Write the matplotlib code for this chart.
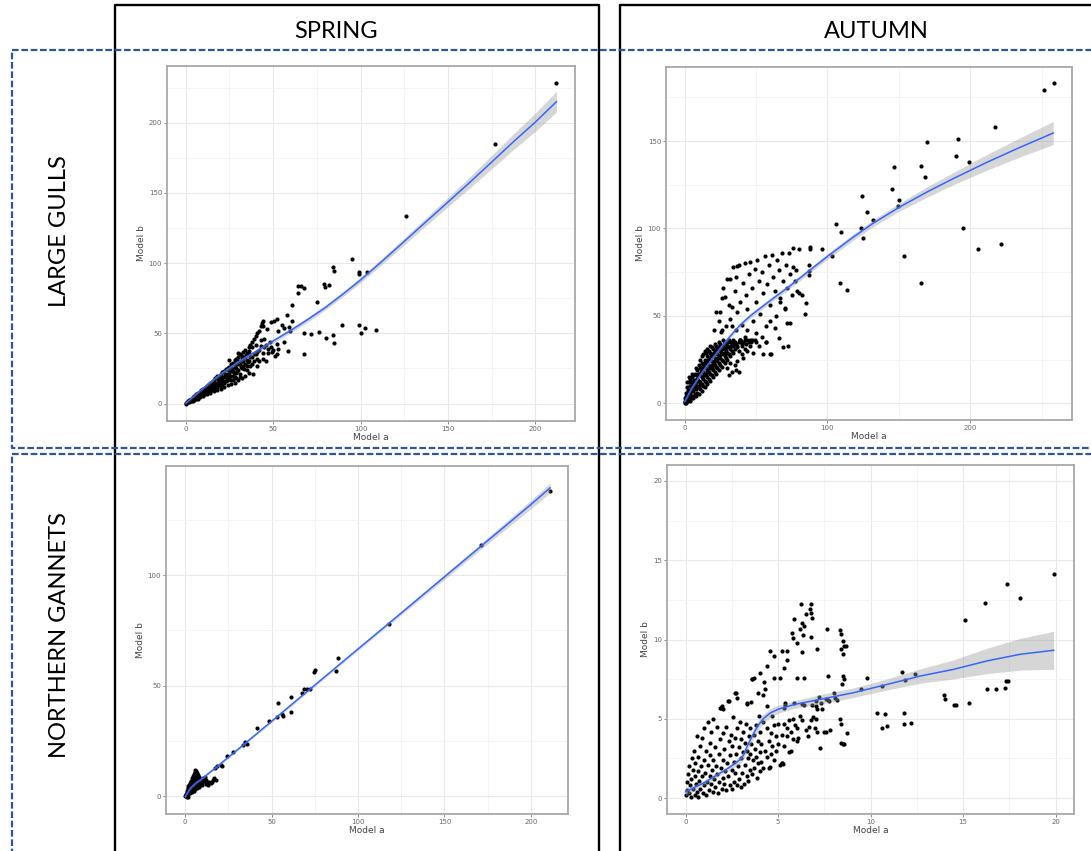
import matplotlib
matplotlib.use('Agg')
import matplotlib.pyplot as plt
from matplotlib.lines import Line2D

W, H = 1091, 851
fig = plt.figure(figsize=(W / 100, H / 100), dpi=100)


def fx(x):
    return x / W


def fy(y):
    return 1 - y / H


col_labels = ["SPRING", "AUTUMN"]
row_labels = ["LARGE GULLS", "NORTHERN GANNETS"]

# ---------------- data: large gulls, spring ----------------
gulls_spring_pts = [
    (212, 228.6), (177, 185), (126, 133.5), (95, 103), (84.3, 97.5), (85, 94.1), (98.9, 93.4), (99.3, 92.2),
    (103.8, 93.6), (64.1, 83.4), (65.8, 83.4), (67.5, 82.4), (64.3, 78.4), (79.1, 85.3), (79.9, 83.2),
    (82.2, 84.7), (75.3, 72.2), (60.7, 70.1), (58.2, 62.9), (52.5, 60), (50.6, 58.8), (48.7, 58.1),
    (43.6, 57.6), (44.2, 55.2), (55, 56), (56, 54), (60.7, 58.9), (59.4, 54.6), (59.9, 52), (52.7, 52),
    (46.6, 53), (89.2, 55.8), (99.3, 55.8), (102.3, 53.6), (108.6, 52.4), (100, 50.3), (67.9, 50.1),
    (71.5, 49.4), (76.5, 51.3), (84.1, 48.9), (80.5, 46.5), (84.6, 42.9), (67.9, 35.6), (58.8, 37.5),
    (56.3, 43.9), (52.5, 42.5), (53, 39.2), (49.2, 36.8), (47.3, 38.7), (38.8, 21.2),
    (0.5, 0.3), (1, 0.8), (1.5, 1), (2, 1.5), (2, 2.5), (3, 2), (3, 3.5), (4, 3), (4, 4.5), (5, 3.5),
    (5, 5.5), (6, 4), (6, 6.5), (7, 5), (7, 7.5), (8, 5.5), (8, 8.5), (9, 6), (9, 9.5), (10, 7),
    (10, 10.5), (11, 6.5), (11, 11), (12, 8), (12, 12.5), (13, 8.5), (13, 13), (14, 9), (14, 14.5),
    (15, 10), (15, 15.5), (16, 11), (16, 17), (17, 12), (17, 18), (18, 11), (18, 19.5), (19, 13),
    (19, 20), (20, 12), (20, 21), (21, 14), (21, 22.5), (22, 15), (22, 23), (23, 16), (23, 24.5),
    (24, 17), (24, 25), (25, 18), (25, 26), (26, 17), (26, 28), (27, 20), (27, 29), (28, 19), (28, 31),
    (29, 22), (29, 32), (30, 24), (30, 33), (31, 21), (31, 35), (32, 25), (32, 34), (33, 27), (33, 37),
    (34, 28), (34, 38), (35, 24), (35, 36), (36, 30), (36, 40), (37, 27), (37, 42), (38, 33), (38, 44),
    (39, 30), (39, 46), (40, 35), (40, 48), (41, 32), (41, 50), (42, 38), (42, 52), (43, 41), (43, 55),
    (44, 36), (44, 59), (45, 40), (45, 46), (46, 42), (47, 36), (48, 44), (49, 40), (50, 38), (51, 34),
    (52, 35), (3, 1.5), (5, 2.5), (6, 3), (8, 4.5), (10, 5.5), (12, 6.5), (14, 7.5), (16, 9), (18, 10),
    (20, 10.5), (22, 12), (24, 13), (26, 14), (28, 15), (30, 17), (32, 18), (34, 20), (36, 22), (9, 8),
    (11, 9), (13, 11), (15, 12.5), (17, 14), (19, 16), (21, 18), (23, 19), (25, 21), (27, 23), (29, 25),
    (31, 28), (33, 30), (35, 31), (37, 33), (39, 35), (41, 37), (43, 45), (40, 42), (38, 40), (36, 35),
    (34, 33), (32, 30), (30, 28), (28, 26), (26, 23), (24, 21), (22, 19), (20, 17), (18, 15), (16, 14),
    (14, 12), (12, 10), (10, 8.5), (8, 7), (6, 5), (4, 2), (2, 1), (7, 3.5), (25, 31), (30, 36), (33, 32),
    (42, 30), (46, 30), (44, 32), (38, 28), (41, 27), (35, 27), (29, 18), (27, 17), (31, 19), (0, -0.5),
    (1.5, 1.8), (2.5, 2.2), (3.5, 2.8), (4.5, 3.8), (5.5, 4.6), (6.5, 5.6), (7.5, 6.2), (8.5, 7.6),
    (9.5, 7.2), (10.5, 9.4), (11.5, 9.8), (12.5, 11.2), (13.5, 10.2), (14.5, 13.2), (15.5, 11.8),
    (16.5, 15.2), (17.5, 13.4), (18.5, 17.2), (19.5, 14.6), (20.5, 19.4), (21.5, 16.2), (22.5, 21.4),
    (23.5, 18.2), (24.5, 23.6), (25.5, 19.6), (26.5, 25.4), (27.5, 21.8), (28.5, 28.2), (29.5, 23.4),
    (30.5, 30.6), (31.5, 25.8), (32.5, 32.4), (33.5, 24.6), (34.5, 34.8), (35.5, 29.4), (36.5, 37.2),
]
gulls_spring_fit_x = [0, 10, 20, 30, 40, 50, 60, 70, 80, 90, 100, 112, 125, 137, 150, 162, 175, 187, 200, 212]
gulls_spring_fit_y = [0.2, 11, 21, 29.5, 37, 44.5, 52, 60, 68.5, 78, 88, 101, 115.5, 129, 143.5, 157, 172,
                      186, 200.5, 215]
gulls_spring_fit_lo = [-0.6, 10, 19.8, 28.2, 35.6, 43, 50.4, 58.3, 66.8, 76.2, 86, 98.8, 113, 126.2, 140.2,
                       153, 167.2, 180.4, 194, 207.6]
gulls_spring_fit_hi = [1.0, 12, 22.2, 30.8, 38.4, 46, 53.6, 61.7, 70.2, 79.8, 90, 103.2, 118, 131.8, 146.8,
                       161, 176.8, 191.6, 207, 222.4]

# ---------------- data: large gulls, autumn ----------------
gulls_autumn_pts = [
    (258.3, 183.2), (251.3, 179), (217.3, 157.8), (191.6, 151.1), (169.7, 149.2), (190, 141.2), (199.1, 138),
    (165.5, 135.5), (146.4, 135.1), (168.3, 129.2), (145.2, 122.7), (124.2, 118.3), (150.1, 116.2),
    (149.4, 113), (127.9, 109.5), (131.9, 105.1), (105.7, 102.3), (109.7, 97.7), (123.5, 100.2),
    (125.1, 94.3), (194.9, 100), (221.7, 91), (205.1, 88.2), (153.6, 84.2), (103.2, 84.2), (165.5, 69),
    (109, 69), (113.9, 64.8), (96.2, 88.2), (88, 89.5), (88, 88.4), (87.3, 79.2), (87.3, 75.4),
    (87.3, 73.5), (85, 57.6), (84.5, 51.3), (80.1, 88), (75.9, 88.8),
    (31.5, 71.2), (36.7, 78.5), (25, 52), (20.3, 41.8), (25.7, 40.9), (74, 46), (70.5, 54.6), (65.9, 37.4),
    (68.9, 32.2), (72.2, 32.8), (60.7, 28.1), (57, 34.9),
    (22, 52), (24, 47), (26, 60), (27, 66), (28, 61), (30, 71), (31, 56), (32, 48), (33, 44), (34, 78),
    (35, 64), (36, 72), (37, 52), (38, 79), (39, 58), (40, 45), (41, 69), (42, 80), (43, 62), (44, 54),
    (45, 74), (46, 81), (47, 66), (48, 47), (49, 77), (50, 58), (51, 82), (52, 70), (53, 51), (54, 75),
    (55, 63), (56, 84), (57, 44), (58, 68), (59, 79), (60, 56), (61, 85), (62, 72), (63, 64), (64, 50),
    (65, 82), (66, 76), (67, 60), (68, 86), (69, 70), (70, 54), (71, 79), (72, 66), (73, 86), (74, 74),
    (75, 62), (76, 78), (77, 70), (78, 76), (79, 64), (80, 63), (82, 62), (46, 36), (50, 40), (54, 38),
    (44, 42), (42, 38), (60, 47), (63, 43), (67, 58), (72, 46), (39, 36), (36, 42), (33, 55), (29, 44),
    (26, 42),
    (0, 0), (0.3, 1), (0.8, 0.2), (1.5, 3), (1.2, 0.5), (2.5, 4), (3.5, 1.5), (0.5, 3), (1, 6), (2, 12),
    (3, 15), (5, 17), (0.5, 0.5), (1, 2), (1, 4), (2, 1), (2, 6), (2, 9), (3, 3), (3, 7), (3, 12), (4, 2),
    (4, 5), (4, 10), (4, 14), (5, 4), (5, 8), (5, 12), (5, 15), (6, 3), (6, 7), (6, 11), (6, 16), (7, 5),
    (7, 9), (7, 13), (7, 17), (8, 4), (8, 8), (8, 12), (8, 16), (8, 20), (9, 6), (9, 10), (9, 14), (9, 19),
    (10, 5), (10, 9), (10, 13), (10, 17), (10, 22), (11, 8), (11, 12), (11, 16), (11, 20), (11, 25),
    (12, 7), (12, 11), (12, 15), (12, 19), (12, 23), (12, 27), (13, 10), (13, 14), (13, 18), (13, 22),
    (13, 28), (14, 9), (14, 13), (14, 17), (14, 21), (14, 25), (14, 30), (15, 12), (15, 16), (15, 20),
    (15, 24), (15, 29), (16, 11), (16, 15), (16, 19), (16, 23), (16, 27), (16, 31), (17, 14), (17, 18),
    (17, 22), (17, 26), (17, 30), (18, 13), (18, 17), (18, 21), (18, 25), (18, 29), (18, 33), (19, 16),
    (19, 20), (19, 24), (19, 28), (19, 32), (20, 15), (20, 19), (20, 23), (20, 27), (20, 31), (21, 18),
    (21, 22), (21, 26), (21, 30), (21, 34), (22, 17), (22, 21), (22, 25), (22, 29), (22, 33), (23, 20),
    (23, 24), (23, 28), (23, 32), (24, 19), (24, 23), (24, 27), (24, 31), (24, 35), (25, 22), (25, 26),
    (25, 30), (25, 34), (26, 21), (26, 25), (26, 29), (26, 33), (27, 24), (27, 28), (27, 32), (27, 36),
    (28, 23), (28, 27), (28, 31), (28, 35), (29, 26), (29, 30), (29, 34), (30, 20), (30, 25), (30, 29),
    (30, 33), (31, 16), (31, 28), (31, 32), (31, 36), (32, 27), (32, 31), (32, 35), (33, 30), (33, 34),
    (34, 29), (34, 33), (34, 36), (35, 31), (35, 35), (36, 19), (36, 34), (37, 24), (37, 32), (38, 35),
    (38, 30), (39, 36), (40, 33), (40, 28), (41, 35), (42, 31), (42, 36), (43, 34), (44, 30), (45, 35),
    (46, 33), (47, 36), (48, 29), (50, 35), (52, 33), (55, 28), (57, 35), (60, 28), (35, 22), (33, 18),
    (32, 23), (38, 18), (41, 26),
    (1.5, 1.2), (2.5, 7.5), (3.5, 10), (4.5, 7), (5.5, 10), (6.5, 13.5), (7.5, 11), (8.5, 14),
    (9.5, 16.5), (10.5, 11), (11.5, 18), (12.5, 21), (13.5, 16), (14.5, 23), (15.5, 18), (16.5, 25),
    (17.5, 20), (18.5, 27), (19.5, 22), (20.5, 29), (21.5, 24), (22.5, 31), (23.5, 26), (24.5, 33),
    (25.5, 28), (26.5, 31), (27.5, 34), (28.5, 29), (29.5, 32), (30.5, 35), (32.5, 33), (34.5, 35),
    (36.5, 33), (38.5, 36), (40.5, 34), (43.5, 36), (46.5, 35), (49.5, 36),
]
gulls_autumn_fit_x = [0, 5, 11, 18, 25, 32, 39, 46, 53, 62, 72, 86, 100, 118, 132, 151, 170, 188, 212, 235, 258]
gulls_autumn_fit_y = [0.9, 8.5, 16.2, 24, 31.5, 38.5, 44.8, 50, 54.4, 60, 66, 75, 84, 95, 103, 112.5, 121,
                      128.5, 138, 146.5, 154.6]
gulls_autumn_fit_lo = [0.1, 7.6, 15.2, 23, 30.3, 37.3, 43.5, 48.6, 53, 58.6, 64.5, 73.5, 82.4, 93.2, 101,
                       110.2, 118, 125, 133.5, 141, 148]
gulls_autumn_fit_hi = [1.7, 9.4, 17.2, 25, 32.7, 39.7, 46.1, 51.4, 55.8, 61.4, 67.5, 76.5, 85.6, 96.8, 105,
                       114.8, 124, 132, 142.5, 152, 161.2]

# ---------------- data: northern gannets, spring ----------------
gannets_spring_pts = [
    (210.8, 138.1), (171.1, 113.6), (118.2, 77.7), (88.7, 62.4), (87.2, 56.6), (74.3, 56.3), (75.2, 56.9),
    (72.3, 48.3), (70.4, 48.6), (68.7, 48.3), (67.9, 46.6), (61.2, 44.7), (53.8, 42.2), (61.2, 38.1),
    (55.9, 37), (56.9, 36.4), (52.9, 36), (48.8, 34), (41.7, 31), (34.7, 24.3), (35.7, 23.4), (33.7, 23.1),
    (27.9, 20.1), (24.5, 18.3), (20.8, 14.3), (21.6, 13.6), (17.4, 12.9), (18.5, 13.6), (15.8, 6.3),
    (15.1, 5.9), (13.5, 5.1), (18, 7.3), (11.6, 8.8), (10.6, 8.1), (9.3, 7.3), (7.7, 5.1), (9.6, 5.1),
    (0, 0), (0.3, 0.5), (0.5, 1), (0.8, 0.3), (1, 1.5), (1, 2.5), (1.2, 0.8), (1.5, 2), (1.5, 3.5), (2, 1),
    (2, 3), (2, 4.5), (2.5, 2), (2.5, 5), (3, 1.5), (3, 3.5), (3, 6), (3.5, 2.5), (3.5, 5), (3.5, 7),
    (4, 2), (4, 4), (4, 6), (4, 8), (4.5, 3), (4.5, 5.5), (4.5, 9), (5, 2.5), (5, 4.5), (5, 7), (5, 10),
    (5.5, 3.5), (5.5, 6), (5.5, 8.5), (5.5, 11), (6, 3), (6, 5), (6, 7.5), (6, 10), (6, 12), (6.5, 4),
    (6.5, 6.5), (6.5, 9), (6.5, 11.5), (7, 3.5), (7, 5.5), (7, 8), (7, 10.5), (7.5, 4.5), (7.5, 7),
    (7.5, 9.5), (8, 4), (8, 6), (8, 8.5), (8.5, 5), (8.5, 7.5), (9, 6.5), (9.5, 5.5), (10, 6), (11, 7),
    (12, 7.5), (13, 6), (14, 6.5), (16, 7.5), (17, 8), (12, 5.5), (2, -0.5), (1, -0.3),
]
gannets_spring_fit_x = [0, 3, 6, 10, 20, 40, 60, 80, 100, 120, 140, 160, 180, 200, 211]
gannets_spring_fit_y = [-0.3, 3.5, 5.8, 8.0, 14.3, 27.3, 40.4, 53.5, 66.6, 79.6, 92.7, 105.8, 118.9, 132, 139.5]
gannets_spring_fit_lo = [-0.8, 2.9, 5.2, 7.5, 13.8, 26.8, 39.8, 52.9, 65.9, 78.8, 91.7, 104.6, 117.4, 130.1, 137.3]
gannets_spring_fit_hi = [0.2, 4.1, 6.4, 8.5, 14.8, 27.8, 41.0, 54.1, 67.3, 80.4, 93.7, 107.0, 120.4, 133.9, 141.7]

# ---------------- data: northern gannets, autumn ----------------
gannets_autumn_pts = [
    (19.9, 14.16), (17.4, 13.48), (16.2, 12.28), (18.1, 12.63), (15.1, 11.21), (17.35, 7.38), (17.45, 7.38),
    (17.25, 6.96), (16.3, 6.9), (16.8, 6.86), (15.3, 6.0), (13.96, 6.5), (14.03, 6.23), (14.5, 5.89),
    (14.6, 5.89), (11.7, 7.93), (11.84, 7.44), (12.38, 7.8), (9.82, 7.59), (9.46, 6.88), (10.6, 7.1),
    (10.36, 5.34), (10.76, 5.3), (10.6, 4.44), (10.9, 4.52), (11.8, 5.38), (11.8, 4.65), (12.2, 4.73),
    (8.35, 10.6), (8.4, 10.33), (8.5, 9.9), (8.56, 9.6), (8.4, 9.38), (8.52, 9.06), (8.7, 9.57),
    (8.5, 7.7), (8.55, 7.5), (8.45, 7.2), (8.35, 4.97), (8.38, 4.65), (8.4, 3.5), (8.5, 3.4), (8.56, 3.44),
    (8.74, 4.13), (7.66, 10.64), (7.7, 7.7), (7.62, 6.23), (7.75, 6.13), (7.58, 4.2), (7.26, 3.17),
    (7.08, 5.8), (7.1, 5.6), (7.08, 5.0), (7.24, 6.4),
    (6.22, 12.22), (6.76, 12.22), (6.72, 11.95), (6.76, 11.7), (6.86, 11.38), (6.49, 11.59), (6.31, 11.07),
    (6.43, 10.85), (6.2, 10.64), (5.85, 11.28), (5.76, 10.39), (5.8, 10.12), (6.34, 10.26), (6.76, 10.18),
    (6.04, 9.8), (6.31, 9.21), (7.12, 9.42),
    (4.58, 9.3), (4.76, 8.99), (5.23, 9.3), (5.5, 9.3), (5.5, 8.7), (5.35, 8.2), (4.4, 8.3), (4.78, 7.55),
    (5.13, 7.55), (6.04, 7.55), (6.43, 7.55), (4.05, 7.9), (3.69, 7.6), (3.6, 7.5), (4.23, 7.29),
    (3.9, 6.65), (4.18, 6.5), (3.33, 5.95), (3.55, 6.07), (2.74, 6.62), (2.79, 6.33), (2.34, 6.12),
    (1.98, 5.8), (1.89, 5.7), (4.42, 5.8), (5.37, 6.0), (5.32, 5.7), (5.86, 6.0), (6.31, 5.95), (6.85, 5.9),
    (7.03, 6.1), (7.3, 6.0), (4.56, 1.96), (5.19, 2.23), (5.28, 2.13), (5.68, 2.97),
    (0.05, 0.2), (0.1, 0.5), (0.1, 1.0), (0.15, 1.5), (0.2, 0.3), (0.2, 2.0), (0.25, 0.8), (0.3, 1.2),
    (0.3, 0.1), (0.35, 2.5), (0.4, 0.6), (0.4, 1.8), (0.45, 3.0), (0.5, 0.2), (0.5, 1.4), (0.5, 2.2),
    (0.55, 0.9), (0.6, 3.9), (0.6, 0.4), (0.65, 1.7), (0.7, 2.6), (0.7, 0.1), (0.75, 1.1), (0.8, 3.3),
    (0.8, 0.6), (0.85, 2.0), (0.9, 1.4), (0.9, 3.8), (0.95, 0.3), (1.0, 2.4), (1.0, 0.8), (1.0, 4.4),
    (1.05, 1.6), (1.1, 0.2), (1.1, 3.0), (1.15, 1.0), (1.2, 4.8), (1.2, 2.1), (1.25, 0.5), (1.3, 1.4),
    (1.3, 3.5), (1.35, 2.7), (1.4, 0.9), (1.4, 4.2), (1.45, 1.8), (1.5, 0.4), (1.5, 2.4), (1.5, 5.0),
    (1.55, 1.2), (1.6, 3.2), (1.6, 0.7), (1.65, 2.0), (1.7, 4.5), (1.7, 1.5), (1.75, 0.3), (1.8, 2.8),
    (1.8, 1.0), (1.85, 3.7), (1.9, 1.9), (1.9, 5.7), (1.95, 0.6), (2.0, 2.4), (2.0, 4.1), (2.0, 1.3),
    (2.05, 5.6), (2.1, 0.9), (2.1, 3.1), (2.15, 1.7), (2.2, 4.5), (2.2, 0.5), (2.25, 2.2), (2.3, 6.1),
    (2.3, 1.4), (2.35, 3.6), (2.4, 0.8), (2.4, 2.7), (2.45, 4.0), (2.5, 1.8), (2.5, 0.6), (2.5, 3.3),
    (2.55, 5.1), (2.6, 2.3), (2.6, 1.0), (2.65, 3.8), (2.7, 1.6), (2.7, 6.6), (2.75, 2.8), (2.8, 0.8),
    (2.8, 4.4), (2.85, 2.0), (2.9, 3.2), (2.9, 1.2), (2.95, 4.8), (3.0, 2.5), (3.0, 0.7), (3.0, 3.7),
    (3.05, 1.6), (3.1, 4.2), (3.1, 2.9), (3.15, 0.9), (3.2, 3.5), (3.2, 2.1), (3.25, 4.7), (3.3, 1.4),
    (3.3, 3.0), (3.35, 6.0), (3.4, 2.5), (3.4, 1.1), (3.45, 3.9), (3.5, 1.8), (3.5, 2.8), (3.5, 4.4),
    (3.55, 3.4), (3.6, 1.5), (3.6, 7.5), (3.65, 2.4), (3.7, 4.0), (3.7, 1.9), (3.75, 3.1), (3.8, 2.6),
    (3.8, 4.6), (3.85, 1.3), (3.9, 3.6), (3.9, 2.2), (3.95, 5.2), (4.0, 2.9), (4.0, 1.7), (4.0, 4.2),
    (4.1, 3.4), (4.1, 2.3), (4.2, 4.8), (4.2, 1.9), (4.3, 3.0), (4.3, 6.9), (4.4, 2.6), (4.4, 4.4),
    (4.5, 3.6), (4.5, 1.9), (4.6, 4.1), (4.6, 2.8), (4.7, 3.3), (4.7, 5.2), (4.8, 4.6), (4.8, 2.4),
    (4.9, 3.9), (4.9, 3.0), (5.0, 4.7), (5.0, 3.4), (5.1, 2.1), (5.2, 4.0), (5.2, 2.2), (5.3, 4.7),
    (5.3, 3.3), (5.4, 5.9), (5.5, 4.4), (5.5, 3.9), (5.6, 2.9), (5.6, 4.9), (5.7, 4.2), (5.8, 5.0),
    (5.8, 3.7), (5.9, 4.6), (6.0, 3.6), (6.0, 4.4), (6.1, 3.8), (6.2, 5.2), (6.3, 4.9), (6.4, 5.9),
    (6.5, 4.3), (6.6, 3.9), (6.7, 4.5), (6.8, 4.9), (6.9, 5.1), (7.0, 4.4), (7.1, 4.2), (7.4, 5.6),
    (7.5, 4.2), (7.7, 6.2), (7.8, 4.3), (8.0, 6.6), (8.1, 6.3), (8.2, 6.2),
]
gannets_autumn_fit_x = [0, 0.5, 1, 1.5, 1.9, 2.3, 2.6, 2.8, 3.0, 3.15, 3.3, 3.5, 3.7, 3.95, 4.2, 4.6, 5.0, 5.5,
                        5.9, 6.6, 7.3, 8.2, 9.1, 10.9, 12.7, 14.5, 16.3, 18.1, 19.9]
gannets_autumn_fit_y = [0.4, 0.68, 0.97, 1.32, 1.6, 1.88, 2.13, 2.3, 2.48, 2.75, 3.18, 3.66, 4.12, 4.62, 5.0,
                        5.38, 5.6, 5.77, 5.91, 6.07, 6.23, 6.44, 6.65, 7.17, 7.7, 8.12, 8.65, 9.07, 9.32]
gannets_autumn_fit_lo = [0.15, 0.5, 0.82, 1.17, 1.45, 1.72, 1.93, 2.08, 2.23, 2.47, 2.88, 3.36, 3.82, 4.32,
                         4.7, 5.1, 5.35, 5.52, 5.66, 5.8, 5.93, 6.14, 6.35, 6.82, 7.25, 7.52, 7.85, 8.07, 8.12]
gannets_autumn_fit_hi = [0.65, 0.86, 1.12, 1.47, 1.75, 2.04, 2.33, 2.52, 2.73, 3.03, 3.48, 3.96, 4.42, 4.92,
                         5.3, 5.66, 5.85, 6.02, 6.16, 6.34, 6.53, 6.74, 6.95, 7.52, 8.15, 8.72, 9.45, 10.07, 10.52]


def panel(box, pts, fit_x, fit_y, fit_lo, fit_hi, xlim, ylim, xt, yt, xm, ym):
    l, t, r, b = box
    ax = fig.add_axes([fx(l), fy(b), (r - l) / W, (b - t) / H])
    ax.set_xlim(xlim)
    ax.set_ylim(ylim)
    ax.set_xticks(xt)
    ax.set_yticks(yt)
    ax.set_xticks(xm, minor=True)
    ax.set_yticks(ym, minor=True)
    ax.grid(which='major', color='#e8e8e8', lw=0.8)
    ax.grid(which='minor', color='#f3f3f3', lw=0.6)
    ax.set_axisbelow(True)
    ax.tick_params(which='minor', length=0)
    ax.tick_params(which='major', length=2, width=0.6, color='#777777', labelsize=5,
                   labelcolor='#666666', pad=1.5)
    for s in ax.spines.values():
        s.set_color('#a8a8a8')
        s.set_linewidth(1.3)
    xs = [p[0] for p in pts]
    ys = [p[1] for p in pts]
    ax.scatter(xs, ys, s=9, c='black', lw=0, zorder=2)
    ax.fill_between(fit_x, fit_lo, fit_hi, color='#999999', alpha=0.4, lw=0, zorder=3)
    ax.plot(fit_x, fit_y, color='#3366FF', lw=1.1, zorder=4)
    ax.set_xlabel('Model a', fontsize=6.5, color='#444444', labelpad=1)
    ax.set_ylabel('Model b', fontsize=6.5, color='#444444', labelpad=2)
    return ax


panel((167, 66, 575, 421), gulls_spring_pts, gulls_spring_fit_x, gulls_spring_fit_y,
      gulls_spring_fit_lo, gulls_spring_fit_hi, (-10.6, 222.6), (-12.4, 240.4),
      [0, 50, 100, 150, 200], [0, 50, 100, 150, 200], [25, 75, 125, 175], [25, 75, 125, 175, 225])
panel((666, 67, 1072, 420), gulls_autumn_pts, gulls_autumn_fit_x, gulls_autumn_fit_y,
      gulls_autumn_fit_lo, gulls_autumn_fit_hi, (-13, 271.2), (-9.6, 192.4),
      [0, 100, 200], [0, 50, 100, 150], [50, 150, 250], [25, 75, 125, 175])
panel((166, 466, 568, 814), gannets_spring_pts, gannets_spring_fit_x, gannets_spring_fit_y,
      gannets_spring_fit_lo, gannets_spring_fit_hi, (-11, 221.4), (-8.1, 149.4),
      [0, 50, 100, 150, 200], [0, 50, 100], [25, 75, 125, 175], [25, 75, 125])
panel((667, 465, 1074, 814), gannets_autumn_pts, gannets_autumn_fit_x, gannets_autumn_fit_y,
      gannets_autumn_fit_lo, gannets_autumn_fit_hi, (-1, 21), (-1, 21),
      [0, 5, 10, 15, 20], [0, 5, 10, 15, 20], [2.5, 7.5, 12.5, 17.5], [2.5, 7.5, 12.5, 17.5])

# ---------------- frame ----------------
black = dict(color='black', lw=1.7, transform=fig.transFigure, solid_capstyle='projecting')
for (x0, x1) in [(115, 599), (620, 1100)]:
    fig.add_artist(Line2D([fx(x0), fx(x0), fx(x1), fx(x1)], [fy(860), fy(5), fy(5), fy(860)], **black))

blue = dict(color='#2F5597', lw=1.6, transform=fig.transFigure, dashes=(3, 1.2))
fig.add_artist(Line2D([fx(1100), fx(12), fx(12), fx(1100)], [fy(49.5), fy(49.5), fy(448), fy(448)], **blue))
fig.add_artist(Line2D([fx(1100), fx(12), fx(12)], [fy(453.5), fy(453.5), fy(860)], **blue))

hfont = ['Lato', 'DejaVu Sans']
fig.text(fx(336), fy(32), col_labels[0], fontsize=17, family=hfont, ha='center', va='center')
fig.text(fx(876), fy(32), col_labels[1], fontsize=17, family=hfont, ha='center', va='center')
fig.text(fx(59), fy(231), row_labels[0], fontsize=17, family=hfont, ha='center', va='center', rotation=90)
fig.text(fx(59), fy(635), row_labels[1], fontsize=17, family=hfont, ha='center', va='center', rotation=90)

fig.savefig('out.png', dpi=100, facecolor='white')
